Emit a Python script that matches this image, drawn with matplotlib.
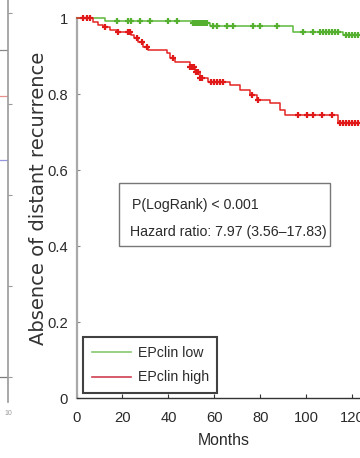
import matplotlib
matplotlib.use("Agg")
import matplotlib.pyplot as plt
from matplotlib.patches import Rectangle
from matplotlib.lines import Line2D
from matplotlib import font_manager
import numpy as np

# ---------------- data ----------------
low_times  = [0, 12.4, 50.7, 58.0, 94.1, 115.9, 123.3]
low_surv   = [1.0, 0.992, 0.987, 0.979, 0.963, 0.955, 0.955]
low_cens   = [17.5, 22.3, 23.8, 27.6, 31.9, 39.8, 43.6, 50.7, 51.5, 52.4, 53.3, 54.1,
              55.0, 55.9, 56.7, 59.3, 61.1, 65.4, 68.0, 76.7, 79.8, 87.2, 98.5, 102.8,
              105.9, 107.2, 108.5, 109.8, 111.1, 112.4, 113.7, 117.2, 118.5, 119.8,
              121.1, 122.4]

high_times = [0, 7.2, 9.3, 11.5, 14.6, 17.6, 23.7, 25.0, 26.7, 28.9, 31.1, 39.3, 40.7,
              42.8, 49.3, 51.5, 53.7, 57.2, 66.7, 71.1, 75.4, 78.5, 84.1, 88.5, 90.7,
              113.7, 123.3]
high_surv  = [1.0, 0.990, 0.982, 0.976, 0.968, 0.963, 0.955, 0.948, 0.937, 0.924, 0.916,
              0.909, 0.895, 0.884, 0.871, 0.858, 0.842, 0.832, 0.824, 0.811, 0.797, 0.784,
              0.776, 0.758, 0.745, 0.724, 0.724]
high_cens  = [2.8, 4.6, 5.9, 12.4, 18.0, 22.4, 23.3, 26.3, 28.5, 30.7, 42.0, 49.3, 50.2,
              51.1, 52.0, 52.8, 53.7, 54.6, 58.5, 59.8, 61.1, 62.4, 63.7, 76.3, 78.9,
              96.3, 100.2, 102.8, 106.7, 111.1, 114.6, 115.9, 117.2, 118.5, 119.8, 121.1,
              122.5]

series_labels = ["EPclin low", "EPclin high"]
x_ticks = [0, 20, 40, 60, 80, 100, 120]
y_ticks = [0, 0.2, 0.4, 0.6, 0.8, 1.0]
y_tick_labels = ["0", "0.2", "0.4", "0.6", "0.8", "1"]
stats_lines = ["P(LogRank) < 0.001", "Hazard ratio: 7.97 (3.56\u201317.83)"]

# fragment of neighbouring panel (cropped at left)
frag_levels = [0.898, 0.772, 0.596, 0.0]
frag_colors = ["#555555", "#e06060", "#6a6ad0", "#444444"]

# ---------------- fonts ----------------
names = {f.name for f in font_manager.fontManager.ttflist}
NARROW = "Liberation Sans Narrow" if "Liberation Sans Narrow" in names else "Liberation Sans"
k = 1.0 if NARROW == "Liberation Sans Narrow" else 0.85
plt.rcParams['font.family'] = [NARROW, 'DejaVu Sans']

GREEN = "#5cb83c"
RED = "#e42424"
TXT = "#2a2a2a"

fig = plt.figure(figsize=(3.6, 4.58), dpi=100)

# left fragment axes
ax0 = fig.add_axes([-0.2, 1 - 402 / 458, 0.222, 402 / 458])
ax0.set_xlim(0, 10)
ax0.set_ylim(-0.069, 1.036)
for s in ["left", "top", "bottom"]:
    ax0.spines[s].set_visible(False)
ax0.spines["right"].set_color("#9a9a9a")
ax0.spines["right"].set_linewidth(1.2)
ax0.yaxis.tick_right()
ax0.set_yticks([0, 0.25, 0.5, 0.75, 1.0])
ax0.tick_params(axis="y", direction="out", length=3, color="#9a9a9a", labelright=False)
ax0.set_xticks([10])
ax0.set_xticklabels(["10"], fontsize=5, color="#999999")
ax0.tick_params(axis="x", length=0, pad=6)
ax0.hlines(frag_levels, 8.2, 10, colors=frag_colors, lw=0.9, alpha=0.7)

# main axes
left = 76.5 / 360
bottom = 1 - 398 / 458
ax = fig.add_axes([left, bottom, 1 - left, (398 - 18) / 458])
ax.set_xlim(0, 123.3)
ax.set_ylim(0, 1)

ax.step(low_times, low_surv, where="post", color=GREEN, lw=1.1, clip_on=False, zorder=3)
ax.step(high_times, high_surv, where="post", color=RED, lw=1.1, clip_on=False, zorder=3)

def surv_at(times, surv, t):
    idx = np.searchsorted(times, t, side="right") - 1
    return np.array(surv)[idx]

ax.plot(low_cens, surv_at(low_times, low_surv, low_cens), ls="none", marker="+",
        ms=4.5, mew=1.6, color="#55b030", clip_on=False, zorder=4)
ax.plot(high_cens, surv_at(high_times, high_surv, high_cens), ls="none", marker="+",
        ms=4.5, mew=1.6, color="#e01818", clip_on=False, zorder=4)

for s in ["top", "right"]:
    ax.spines[s].set_visible(False)
ax.spines["left"].set_color("#a8a8a8")
ax.spines["left"].set_linewidth(1.6)
ax.spines["bottom"].set_color("#333333")
ax.spines["bottom"].set_linewidth(1.0)

ax.set_xticks(x_ticks)
ax.set_xticklabels([str(v) for v in x_ticks])
ax.set_yticks(y_ticks)
ax.set_yticklabels(y_tick_labels)
ax.tick_params(axis="x", direction="in", length=3, color="#333333", labelsize=12.5 * k,
               labelcolor=TXT, pad=9)
ax.tick_params(axis="y", direction="in", length=2, color="#888888", labelsize=12.5 * k,
               labelcolor=TXT, pad=6)

ax.set_xlabel("Months", fontsize=13.5 * k, color=TXT)
ax.xaxis.set_label_coords((224 - 76.5) / 283.5, -0.092)
ax.text(-0.135, 0.525, "Absence of distant recurrence", transform=ax.transAxes,
        rotation=90, ha="center", va="center", fontsize=14, color="#333333",
        family="DejaVu Sans")

# statistics box
ax.add_patch(Rectangle((42.5 / 283.5, 0.40), 211 / 283.5, 0.166, transform=ax.transAxes,
                       fill=False, ec="#777777", lw=1.0, zorder=2))
ax.text(55 / 283.5, 0.508, stats_lines[0], transform=ax.transAxes, ha="left",
        va="center", fontsize=12 * k, color=TXT)
ax.text(53 / 283.5, 0.437, stats_lines[1], transform=ax.transAxes, ha="left",
        va="center", fontsize=12 * k, color=TXT)

# legend
handles = [Line2D([], [], color="#86c870", lw=1.2), Line2D([], [], color="#d04050", lw=1.2)]
leg = ax.legend(handles, series_labels, loc="lower left",
                bbox_to_anchor=(6.5 / 283.5, 5 / 380), borderaxespad=0,
                fontsize=12 * k, frameon=True, fancybox=False, handlelength=2.8,
                handletextpad=0.45, labelspacing=0.75, borderpad=0.6)
leg.get_frame().set_edgecolor("#111111")
leg.get_frame().set_linewidth(1.5)
for t in leg.get_texts():
    t.set_color(TXT)

fig.savefig("out.png", dpi=100)
